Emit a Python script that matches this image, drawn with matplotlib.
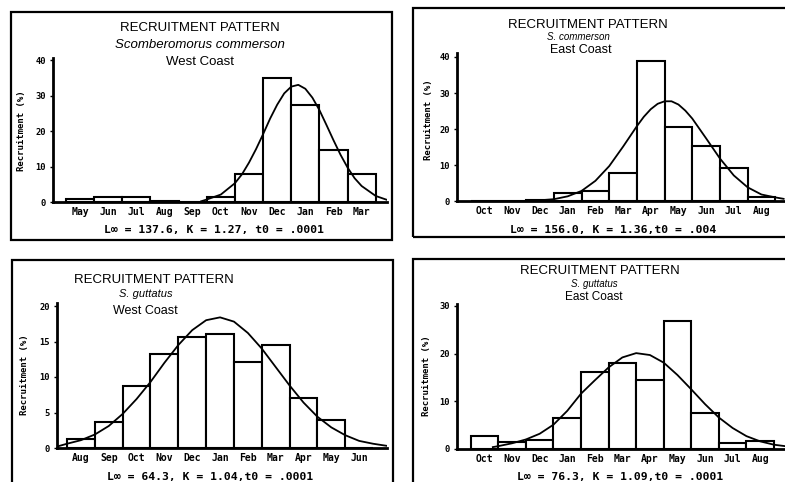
import matplotlib
matplotlib.use("Agg")
import matplotlib.pyplot as plt
from matplotlib.patches import Rectangle

W, H = 785, 482

# ---------------- data ----------------
# Panel 1: S. commerson, West Coast
months_p1 = ["May", "Jun", "Jul", "Aug", "Sep", "Oct", "Nov", "Dec", "Jan", "Feb", "Mar"]
bars_p1 = [0.8, 1.3, 1.3, 0.3, 0.0, 1.5, 8.0, 34.8, 27.2, 14.7, 8.0]
curve_x_p1 = [4.3, 4.5, 5.0, 5.5, 5.75, 6.0, 6.25, 6.5, 6.75, 7.0, 7.25, 7.5, 7.75, 8.0,
              8.25, 8.5, 8.75, 9.0, 9.25, 9.5, 9.75, 10.0, 10.5, 10.9]
curve_y_p1 = [0.2, 0.7, 2.1, 5.3, 7.8, 11.1, 14.9, 19.1, 23.5, 27.4, 30.6, 32.5, 33.0, 31.9,
              29.4, 25.9, 21.7, 17.4, 13.3, 9.7, 6.7, 4.5, 1.7, 0.6]
yticks_p1 = [0, 10, 20, 30, 40]

# Panel 2: S. commerson, East Coast
months_p2 = ["Oct", "Nov", "Dec", "Jan", "Feb", "Mar", "Apr", "May", "Jun", "Jul", "Aug"]
bars_p2 = [0.0, 0.0, 0.3, 2.3, 2.8, 7.9, 39.0, 20.6, 15.4, 9.1, 1.2]
curve_x_p2 = [2.0, 2.5, 3.0, 3.5, 4.0, 4.5, 5.0, 5.5, 5.75, 6.0, 6.25, 6.5, 6.75, 7.0,
              7.25, 7.5, 8.0, 8.5, 9.0, 9.5, 10.0, 10.5, 10.8]
curve_y_p2 = [0.2, 0.5, 1.3, 2.8, 5.6, 9.7, 15.1, 20.8, 23.4, 25.5, 27.0, 27.7, 27.7, 26.8,
              25.1, 22.9, 17.4, 11.8, 7.1, 3.8, 1.8, 1.0, 0.6]
yticks_p2 = [0, 10, 20, 30, 40]

# Panel 3: S. guttatus, West Coast
months_p3 = ["Aug", "Sep", "Oct", "Nov", "Dec", "Jan", "Feb", "Mar", "Apr", "May", "Jun"]
bars_p3 = [1.2, 3.7, 8.7, 13.3, 15.7, 16.1, 12.1, 14.5, 7.0, 4.0, 0.0]
curve_x_p3 = [-0.86, -0.5, 0.0, 0.5, 1.0, 1.5, 2.0, 2.5, 3.0, 3.5, 4.0, 4.5, 5.0, 5.5,
              6.0, 6.5, 7.0, 7.5, 8.0, 8.5, 9.0, 9.5, 10.0, 10.5, 11.0]
curve_y_p3 = [0.2, 0.6, 1.1, 1.9, 3.1, 4.8, 6.9, 9.3, 12.0, 14.5, 16.6, 18.0, 18.4, 17.8,
              16.2, 14.0, 11.4, 8.8, 6.4, 4.4, 2.9, 1.8, 1.0, 0.6, 0.3]
yticks_p3 = [0, 5, 10, 15, 20]

# Panel 4: S. guttatus, East Coast
months_p4 = ["Oct", "Nov", "Dec", "Jan", "Feb", "Mar", "Apr", "May", "Jun", "Jul", "Aug"]
bars_p4 = [2.7, 1.5, 1.8, 6.5, 16.2, 18.0, 14.5, 26.8, 7.6, 1.2, 1.6]
curve_x_p4 = [0.3, 0.5, 1.0, 1.5, 2.0, 2.5, 3.0, 3.5, 4.0, 4.5, 5.0, 5.5, 6.0, 6.5,
              7.0, 7.5, 8.0, 8.5, 9.0, 9.5, 10.0, 10.5, 10.9]
curve_y_p4 = [0.4, 0.6, 1.2, 2.0, 3.2, 5.1, 8.0, 11.6, 14.4, 17.1, 19.2, 20.1, 19.7, 18.1,
              15.5, 12.5, 9.4, 6.6, 4.4, 2.7, 1.6, 0.9, 0.6]
yticks_p4 = [0, 10, 20, 30]

titles = ["RECRUITMENT PATTERN"] * 4
species = ["Scomberomorus commerson", "S. commerson", "S. guttatus", "S. guttatus"]
coasts = ["West Coast", "East Coast", "West Coast", "East Coast"]
params = ["L\u221e = 137.6, K = 1.27, t0 = .0001",
          "L\u221e = 156.0, K = 1.36,t0 = .004",
          "L\u221e = 64.3, K = 1.04,t0 = .0001",
          "L\u221e = 76.3, K = 1.09,t0 = .0001"]
ylabel = "Recruitment (%)"

# ---------------- layout (pixels) ----------------
panels = [
    dict(months=months_p1, bars=bars_p1, cx=curve_x_p1, cy=curve_y_p1, yt=yticks_p1,
         left=53, right=387, base=202, ppu=3.55, ytop=40.5, xlim=(-0.96, 10.9),
         frame=(11, 12, 392, 240),
         tpos=[(200, 28, 9.5), (200, 45, 9.5), (200, 62, 9.5)],
         ppos=(214, 230), ylpos=(22, 131)),
    dict(months=months_p2, bars=bars_p2, cx=curve_x_p2, cy=curve_y_p2, yt=yticks_p2,
         left=457, right=785, base=201, ppu=3.6, ytop=41, xlim=(-1.0, 10.85),
         frame=(413, 8, 792, 237),
         tpos=[(588, 25, 9.5), (578, 37, 7.0), (581, 50, 9.0)],
         ppos=(613, 230), ylpos=(428, 120)),
    dict(months=months_p3, bars=bars_p3, cx=curve_x_p3, cy=curve_y_p3, yt=yticks_p3,
         left=57, right=387, base=448, ppu=7.1, ytop=20.4, xlim=(-0.86, 11.0),
         frame=(12, 260, 393, 492),
         tpos=[(154, 280, 9.5), (146, 294, 8.0), (145, 311, 9.0)],
         ppos=(210, 477), ylpos=(25, 375)),
    dict(months=months_p4, bars=bars_p4, cx=curve_x_p4, cy=curve_y_p4, yt=yticks_p4,
         left=457, right=785, base=449, ppu=4.77, ytop=30.5, xlim=(-1.0, 10.9),
         frame=(413, 259, 792, 492),
         tpos=[(600, 271, 9.5), (594, 284, 7.0), (594, 297, 8.5)],
         ppos=(620, 477), ylpos=(427, 376)),
]

fig = plt.figure(figsize=(W / 100, H / 100), dpi=100)
fig.patch.set_facecolor("white")

mono = "DejaVu Sans Mono"
sans = "Liberation Sans"


def fx(x):
    return x / W


def fy(y):
    return 1 - y / H


for i, p in enumerate(panels):
    x0, y0, x1, y1 = p["frame"]
    fig.add_artist(Rectangle((fx(x0), fy(y1)), fx(x1) - fx(x0), fy(y0) - fy(y1),
                             transform=fig.transFigure, fill=False,
                             edgecolor="black", linewidth=1.6))
    top_px = p["base"] - p["ytop"] * p["ppu"]
    ax = fig.add_axes([fx(p["left"]), fy(p["base"]),
                       (p["right"] - p["left"]) / W, (p["base"] - top_px) / H])
    ax.set_facecolor("none")
    idx = list(range(len(p["months"])))
    ax.bar(idx, p["bars"], width=1.0, facecolor="white", edgecolor="black",
           linewidth=1.5, zorder=2)
    ax.plot(p["cx"], p["cy"], color="black", linewidth=1.3, zorder=3)
    ax.set_xlim(*p["xlim"])
    ax.set_ylim(0, p["ytop"])
    for s in ["top", "right"]:
        ax.spines[s].set_visible(False)
    ax.spines["left"].set_linewidth(2.0)
    ax.spines["bottom"].set_linewidth(2.0)
    ax.set_xticks(idx)
    ax.set_xticklabels(p["months"], fontfamily=mono, fontweight="bold", fontsize=7)
    ax.tick_params(axis="x", length=0, pad=3.5)
    ax.set_yticks(p["yt"])
    ax.set_yticklabels([str(v) for v in p["yt"]], fontfamily=mono, fontweight="bold",
                       fontsize=6.3)
    ax.tick_params(axis="y", length=2, width=1, pad=3)

    for (tx, ty, fs), txt, style in zip(p["tpos"], [titles[i], species[i], coasts[i]],
                                        ["normal", "italic", "normal"]):
        fig.text(fx(tx), fy(ty), txt, ha="center", va="center", fontsize=fs,
                 fontfamily=sans, fontstyle=style)
    fig.text(fx(p["ppos"][0]), fy(p["ppos"][1]), params[i], ha="center", va="center",
             fontsize=8.2, fontfamily=mono, fontweight="bold")
    fig.text(fx(p["ylpos"][0]), fy(p["ylpos"][1]), ylabel, ha="center", va="center",
             rotation=90, fontsize=6.5, fontfamily=mono, fontweight="bold")

fig.savefig("out.png", dpi=100, facecolor="white")
